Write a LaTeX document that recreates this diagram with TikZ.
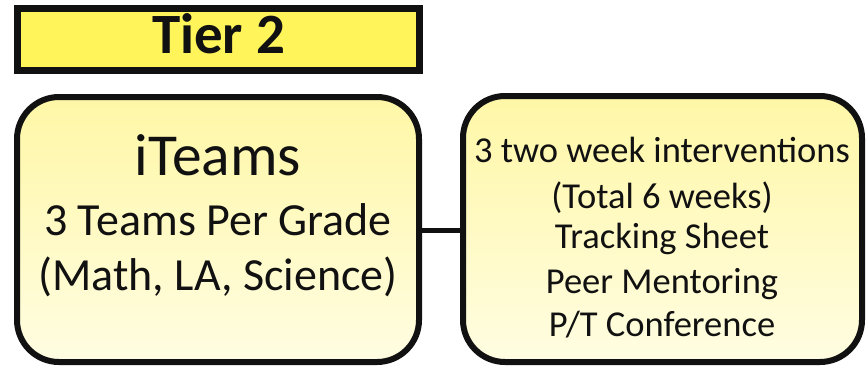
\documentclass[tikz,border=0pt]{standalone}
\usepackage{fontspec}
\setmainfont{Carlito}
\definecolor{tierfill}{HTML}{FFF55A}
\definecolor{boxtop}{HTML}{FFF7A6}
\definecolor{boxbot}{HTML}{FFFDE2}
\definecolor{ink}{HTML}{111111}
\begin{document}
\begin{tikzpicture}[x=1pt,y=-1pt,
  tierbox/.style={draw=ink,line width=7pt,fill=tierfill,minimum width=402pt,minimum height=62pt,inner sep=0pt},
  roundbox/.style={draw=ink,line width=6pt,rounded corners=42pt,top color=boxtop,bottom color=boxbot,inner sep=0pt},
  txt/.style={anchor=base,inner sep=0pt,text=ink},
  conn/.style={draw=ink,line width=5pt}]
\useasboundingbox (0,0) rectangle (868,368);
\node[tierbox] (tier) at (218.5,39.5) {};
\node[txt,font=\bfseries\fontsize{57}{60}\selectfont] (tiert) at (218.5,53) {Tier 2};
\node[roundbox,minimum width=402pt,minimum height=265pt] (left) at (218,229.5) {};
\node[roundbox,minimum width=399pt,minimum height=266pt] (right) at (662.5,229) {};
\draw[conn] (left.east |- 0,230) -- (right.west |- 0,230);
\node[txt,font=\fontsize{59.5}{62}\selectfont] (l1) at (218,175) {iTeams};
\node[txt,font=\fontsize{46}{50}\selectfont] (l2) at (218,235) {3 Teams Per Grade};
\node[txt,font=\fontsize{46}{50}\selectfont] (l3) at (218,290) {(Math, LA, Science)};
\node[txt,font=\fontsize{36.5}{40}\selectfont] (r1) at (662,162) {3 two week interventions};
\node[txt,font=\fontsize{36.5}{40}\selectfont] (r2) at (662,208) {(Total 6 weeks)};
\node[txt,font=\fontsize{36.5}{40}\selectfont] (r3) at (662,248) {Tracking Sheet};
\node[txt,font=\fontsize{36.5}{40}\selectfont] (r4) at (662,293) {Peer Mentoring};
\node[txt,font=\fontsize{36.5}{40}\selectfont] (r5) at (662,336) {P/T Conference};
\end{tikzpicture}
\end{document}
